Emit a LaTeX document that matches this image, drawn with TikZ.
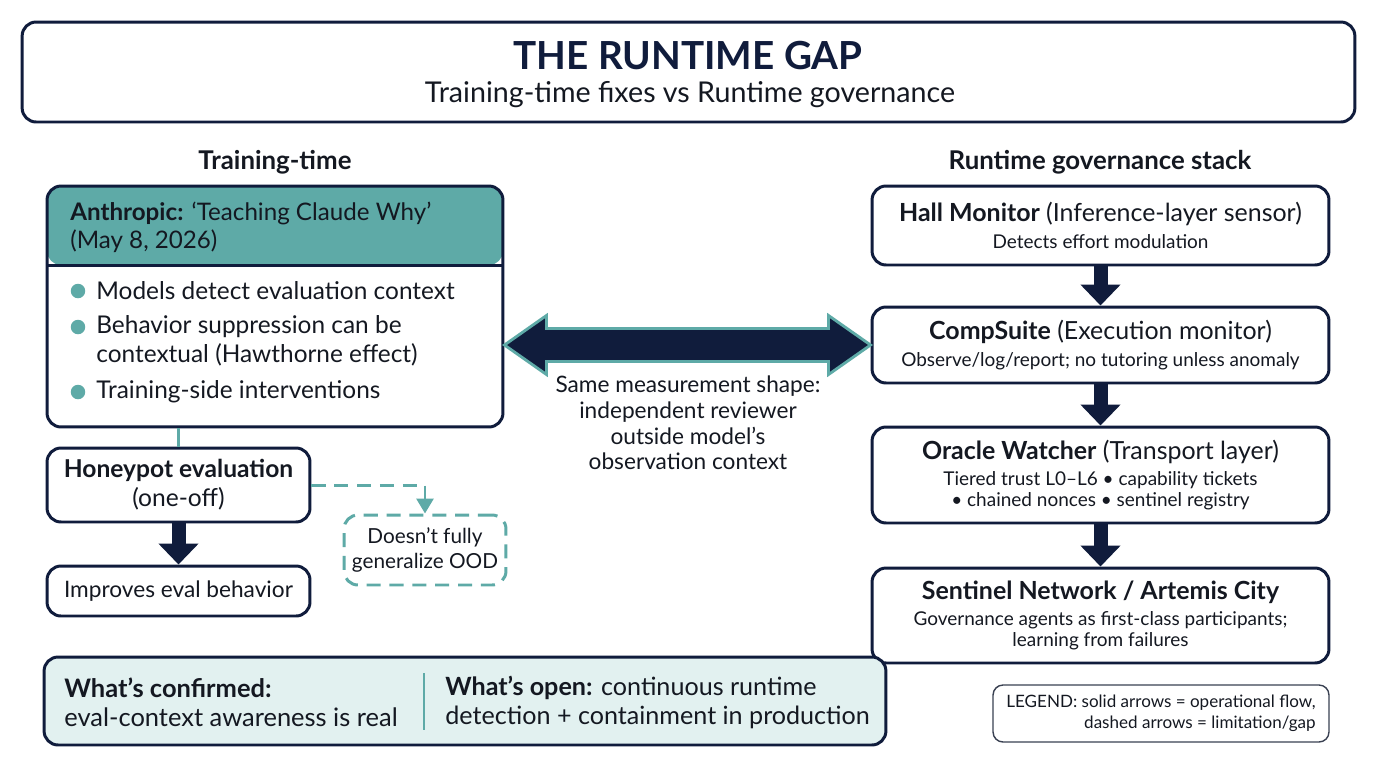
\documentclass[tikz,border=0pt]{standalone}
\usepackage{fontspec}
\setmainfont{Lato}
\usepackage{tikz}
\usetikzlibrary{arrows.meta,positioning,calc}
\definecolor{deepnavy}{HTML}{101C3C}
\definecolor{inkblack}{HTML}{141821}
\definecolor{softteal}{HTML}{5EAAA7}
\definecolor{paleteal}{HTML}{E2F1F0}
\definecolor{legendgray}{HTML}{3A4152}
\newcommand{\boxhead}{\fontsize{14.2}{17}\selectfont}
\newcommand{\boxsub}{\fontsize{10.8}{12.2}\selectfont}

\begin{document}
\begin{tikzpicture}[
  x=0.02cm, y=-0.02cm,
  panel/.style={rectangle, draw=deepnavy, fill=white, rounded corners=2.8mm, line width=1.7pt, align=center, text=inkblack},
  gapbox/.style={rectangle, draw=softteal, fill=white, rounded corners=2.8mm, line width=1.7pt, dash pattern=on 8pt off 5pt, align=center, text=inkblack, font=\fontsize{11.8}{14}\selectfont},
  lanehdr/.style={font=\fontsize{14.7}{17}\selectfont\bfseries, text=inkblack},
  itemtxt/.style={anchor=west, align=left, inner sep=0pt, text=inkblack, font=\fontsize{13.9}{16.2}\selectfont},
  dot/.style={circle, fill=softteal, inner sep=0pt, minimum size=2.9mm},
  flowarrow/.style={-{Triangle[length=0.42cm,width=0.78cm]}, line width=0.28cm, color=deepnavy},
  limitarrow/.style={-{Triangle[length=0.3cm,width=0.34cm]}, line width=1.7pt, color=softteal, dash pattern=on 8pt off 5pt}
]
\useasboundingbox (0,0) rectangle (1376,768);
\fill[white] (0,0) rectangle (1376,768);

% Title banner
\node[panel, minimum width=26.66cm, minimum height=2.0cm] (banner) at (688.5,72) {};
\node[font=\fontsize{22}{26}\selectfont\bfseries, text=deepnavy] (title) at (688,56) {THE RUNTIME GAP};
\node[font=\fontsize{16.3}{19}\selectfont, text=inkblack] (subtitle) at (690,95) {Training-time fixes vs Runtime governance};

% Lane headers
\node[lanehdr] (h1) at (275,162) {Training-time};
\node[lanehdr] (h2) at (1100,162) {Runtime governance stack};

% Training-time panel with teal header band
\node[panel, minimum width=9.12cm, minimum height=4.82cm,
  path picture={
    \fill[softteal] (path picture bounding box.north west) rectangle ([yshift=-1.58cm]path picture bounding box.north east);
    \draw[deepnavy, line width=1.7pt] ([yshift=-1.58cm]path picture bounding box.north west) -- ([yshift=-1.58cm]path picture bounding box.north east);
  }] (train) at (275,306.5) {};
\node[itemtxt, font=\fontsize{13.75}{15.8}\selectfont] (anthro) at (70,227) {\textbf{Anthropic:} ‘Teaching Claude Why’\\(May 8, 2026)};

\node[dot] (d1) at (78,291) {};
\node[itemtxt] (b1) at (96,291) {Models detect evaluation context};
\node[dot] (d2) at (78,327) {};
\node[itemtxt] (b2) at (96,341) {Behavior suppression can be\\contextual (Hawthorne effect)};
\node[dot] (d3) at (78,392) {};
\node[itemtxt] (b3) at (96,392) {Training-side interventions};

% Honeypot branch
\node[panel, minimum width=5.26cm, minimum height=1.48cm, font=\fontsize{14}{16.5}\selectfont] (honey) at (178.5,485) {\textbf{Honeypot evaluation}\\(one-off)};
\draw[softteal, line width=1.7pt] (honey.north) -- (honey.north |- train.south);

\node[panel, minimum width=5.26cm, minimum height=1.0cm, font=\fontsize{12.9}{15}\selectfont] (improve) at (178.5,591) {Improves eval behavior};
\draw[flowarrow] (honey.south) -- (improve.north);

\node[gapbox, minimum width=3.24cm, minimum height=1.4cm] (ood) at (425,550) {Doesn’t fully\\generalize OOD};
\draw[limitarrow] (honey.east) -| (ood.north);

% Runtime stack
\node[panel, minimum width=9.14cm, minimum height=1.58cm] (hall) at (1100.5,225.5)
  {{\boxhead\textbf{Hall Monitor} (Inference-layer sensor)}\\[3pt]{\boxsub Detects effort modulation}};
\node[panel, minimum width=9.14cm, minimum height=1.52cm] (comp) at (1100.5,345)
  {{\boxhead\textbf{CompSuite} (Execution monitor)}\\[3pt]{\boxsub Observe/log/report; no tutoring unless anomaly}};
\node[panel, minimum width=9.14cm, minimum height=1.92cm] (oracle) at (1100.5,475)
  {{\boxhead\textbf{Oracle Watcher} (Transport layer)}\\[3pt]{\boxsub Tiered trust L0–L6 • capability tickets}\\{\boxsub • chained nonces • sentinel registry}};
\node[panel, minimum width=9.14cm, minimum height=1.9cm] (sentinel) at (1100.5,615.5)
  {{\boxhead\textbf{Sentinel Network / Artemis City}}\\[3pt]{\boxsub Governance agents as first-class participants;}\\{\boxsub learning from failures}};

\draw[flowarrow] (hall.south) -- (comp.north);
\draw[flowarrow] (comp.south) -- (oracle.north);
\draw[flowarrow] (oracle.south) -- (sentinel.north);

% Two-way link between the two sides
\coordinate (la) at (train.east |- comp.west);
\coordinate (ra) at (comp.west);
\filldraw[fill=deepnavy, draw=softteal, line width=1.6pt, line join=miter]
  (la) -- ++(42,-29.5) -- ++(0,13) -- ($(ra)+(-42,-16.5)$) -- ++(0,-13) -- (ra)
  -- ++(-42,29.5) -- ++(0,-13) -- ($(la)+(42,16.5)$) -- ++(0,13) -- cycle;
\node[align=center, text=inkblack, font=\fontsize{12.9}{14.6}\selectfont] (same) at (688,423) {Same measurement shape:\\independent reviewer\\outside model’s\\observation context};

% Summary strip
\node[panel, fill=paleteal, minimum width=16.84cm, minimum height=1.76cm] (summary) at (465,701) {};
\node[itemtxt, font=\fontsize{14.5}{16.5}\selectfont] (conf) at (64,702) {\textbf{What’s confirmed:}\\eval-context awareness is real};
\node[itemtxt, font=\fontsize{14.3}{16.5}\selectfont] (open) at (445,702) {\textbf{What’s open:} continuous runtime\\detection + containment in production};
\draw[softteal, line width=1.6pt] (424,673) -- (424,730);

% Legend
\node[rectangle, draw=legendgray, rounded corners=2mm, line width=0.8pt, minimum width=6.72cm, minimum height=1.14cm, align=right, text=inkblack, font=\fontsize{9.7}{12}\selectfont] (legend) at (1161,713.5) {LEGEND: solid arrows = operational flow,\\dashed arrows = limitation/gap};

\end{tikzpicture}
\end{document}
